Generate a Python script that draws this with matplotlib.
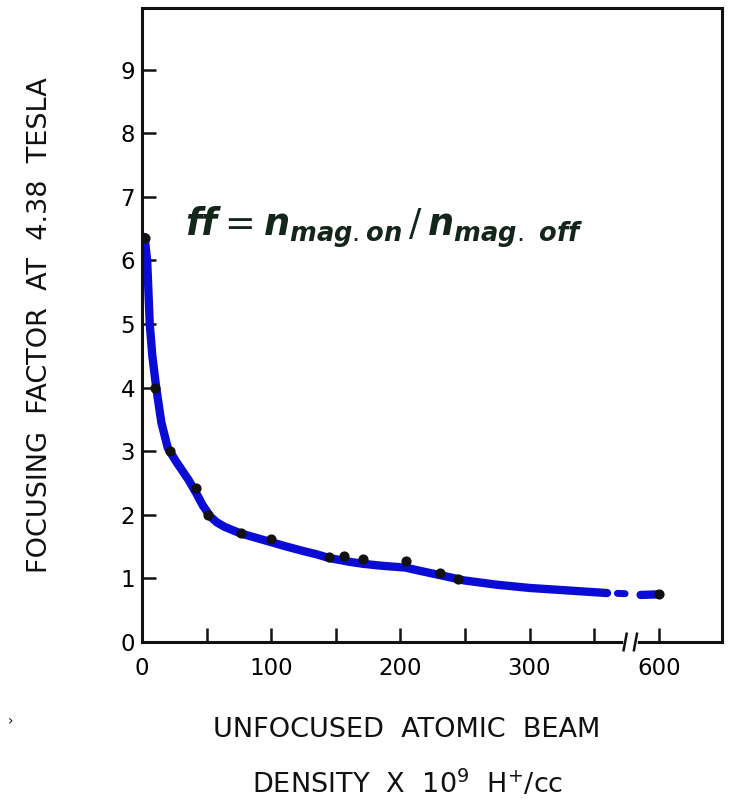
import matplotlib.pyplot as plt
import numpy as np

plt.rcParams['mathtext.fontset'] = 'custom'
plt.rcParams['mathtext.it'] = 'DejaVu Sans:italic:bold'
plt.rcParams['mathtext.rm'] = 'DejaVu Sans'

# values (x in 10^9 H/cc, y = focusing factor)
curve_x = [2, 4, 6, 8, 11, 15, 20, 26, 31, 36, 42, 47, 53, 58, 64, 70, 76, 88, 100, 112, 125, 135,
           145, 161, 171, 185, 204, 215, 231, 240, 249, 260, 275, 300, 330, 360]
curve_y = [6.37, 6.0, 5.0, 4.5, 4.0, 3.45, 3.05, 2.85, 2.7, 2.55, 2.34, 2.15, 1.97, 1.88, 1.81, 1.76, 1.71,
           1.64, 1.57, 1.5, 1.43, 1.38, 1.32, 1.26, 1.23, 1.2, 1.17, 1.12, 1.05, 1.01, 0.97, 0.94, 0.9,
           0.85, 0.81, 0.77]
dash_x = [368, 374]
dash_y = [0.765, 0.76]
tail_x = [586, 601]
tail_y = [0.74, 0.75]

dot_x = [2, 10, 22, 42, 51, 77, 100, 145, 156, 171, 204, 231, 245, 600]
dot_y = [6.35, 4.0, 3.0, 2.42, 2.0, 1.72, 1.62, 1.33, 1.36, 1.31, 1.27, 1.09, 0.99, 0.76]

tick_vals = [0, 50, 100, 150, 200, 250, 300, 350, 600]
tick_text = ['0', '', '100', '', '200', '', '300', '', '600']
break_at = 378


def tx(v):
    # broken axis: everything above 500 is shifted left by 200
    v = np.asarray(v, dtype=float)
    return np.where(v > 500, v - 200, v)


fig = plt.figure(figsize=(7.3, 8.01), dpi=100)
ax = fig.add_axes([142 / 730, 1 - 642 / 801, 580 / 730, 634 / 801])

ax.plot(tx(curve_x), curve_y, color='#0b0bd6', lw=6, solid_capstyle='round',
        solid_joinstyle='round', zorder=2)
ax.plot(tx(dash_x), dash_y, color='#0b0bd6', lw=5, solid_capstyle='round', zorder=2)
ax.plot(tx(tail_x), tail_y, color='#0b0bd6', lw=6, solid_capstyle='round', zorder=2)
ax.scatter(tx(dot_x), dot_y, s=40, color='#111111', zorder=3)

ax.set_xlim(0, 449)
ax.set_ylim(0, 9.97)
ax.set_xticks(tx(tick_vals))
ax.set_xticklabels(tick_text)
ax.set_yticks(range(10))
ax.tick_params(direction='in', length=10, width=1.8, labelsize=16.5, color='#111111')
ax.tick_params(axis='x', pad=11)
ax.tick_params(axis='y', pad=5)
for lbl in ax.get_xticklabels() + ax.get_yticklabels():
    lbl.set_fontweight('medium')
for s in ax.spines.values():
    s.set_linewidth(2.2)
    s.set_color('#111111')

# axis break marks
ax.plot([break_at - 3.5, break_at + 3.5], [0, 0], color='white', lw=4, clip_on=False, zorder=4)
for bx in [break_at - 4, break_at + 4]:
    ax.plot([bx - 1.2, bx + 1.2], [-0.13, 0.13], color='#111111', lw=1.8, clip_on=False, zorder=5)

fig.text(0.253, 0.716, r'$ff = n_{mag.on}\,/\,n_{mag.\ off}$', fontsize=26.5,
         color='#14261a', ha='left', va='center')

fig.text(40 / 730, 1 - 325 / 801, 'FOCUSING  FACTOR  AT  4.38  TESLA', rotation=90,
         ha='center', va='center', fontsize=19.5, color='#111111')
fig.text(407 / 730, 1 - 730 / 801, 'UNFOCUSED  ATOMIC  BEAM',
         ha='center', va='center', fontsize=19.5, color='#111111')
fig.text(408 / 730, 1 - 784 / 801, r'DENSITY  X  10$^{9}$  H$^{+}$/cc',
         ha='center', va='center', fontsize=19.5, color='#111111')
fig.text(8 / 730, 1 - 725 / 801, '›', fontsize=10, color='#111111')

fig.savefig('out.png', dpi=100)
